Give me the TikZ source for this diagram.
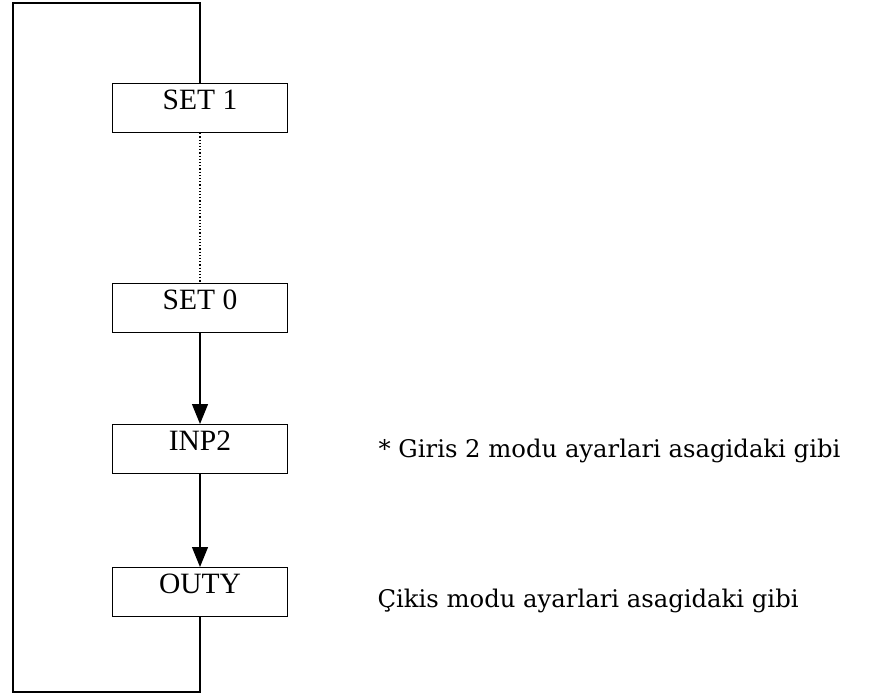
\documentclass[tikz,border=0pt]{standalone}
\usepackage{fontspec}
\setmainfont{Liberation Serif}
\newfontfamily\notefont{DejaVu Serif}
\usetikzlibrary{arrows.meta}
\begin{document}
\begin{tikzpicture}[x=1pt,y=-1pt,line width=1.2pt,
  stepbox/.style={draw,rectangle,anchor=north,minimum width=175pt,inner sep=0pt,
    text height=26pt,text depth=23pt,font=\fontsize{29.5}{31}\selectfont},
  flow/.style={-{Triangle[length=20pt,width=16pt]}},
  note/.style={anchor=base west,inner sep=0pt,font=\notefont\fontsize{24.3}{28}\selectfont}]
\useasboundingbox (0,0) rectangle (892,695);
\node[stepbox] (set1) at (200,83) {SET 1};
\node[stepbox] (set0) at (200,283) {SET 0};
\node[stepbox] (inp2) at (200,424) {INP2};
\node[stepbox] (outy) at (200,567) {OUTY};
\coordinate (bl) at (13,692);
\coordinate (tl) at (13,3);
\draw[dotted] (set1.south) -- (set0.north);
\draw[flow] (set0.south) -- (inp2.north);
\draw[flow] (inp2.south) -- (outy.north);
\draw (outy.south) |- (bl) -- (tl) -| (set1.north);
\node[note] (n1) at (378,457) {* Giris 2 modu ayarlari asagidaki gibi};
\node[note] (n2) at (377,607) {Çikis modu ayarlari asagidaki gibi};
\end{tikzpicture}
\end{document}
